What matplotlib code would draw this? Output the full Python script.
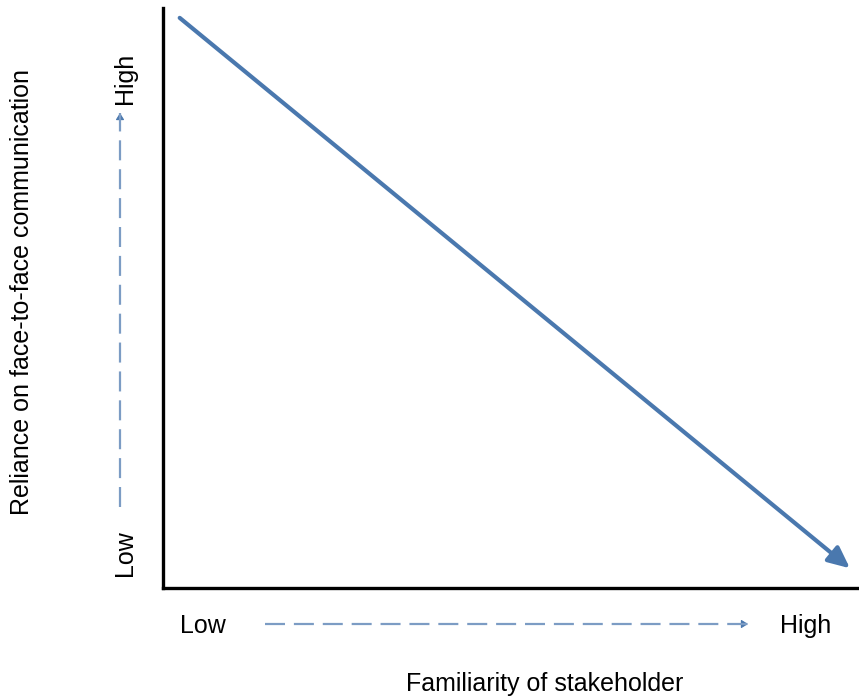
import matplotlib
matplotlib.use('Agg')
import matplotlib.pyplot as plt
from matplotlib.lines import Line2D
from matplotlib.patches import FancyArrowPatch

plt.rcParams['font.family'] = ['Liberation Sans', 'DejaVu Sans']

W, H = 859, 698

# trend: familiarity (x) vs reliance on face-to-face communication (y)
trend_x = [0.024, 0.987]
trend_y = [0.983, 0.034]

x_label = 'Familiarity of stakeholder'
y_label = 'Reliance on face-to-face communication'
low_txt, high_txt = 'Low', 'High'

line_color = '#4A78AE'
dash_color = '#7C9CC4'

fig = plt.figure(figsize=(W / 100, H / 100), dpi=100)
ax = fig.add_axes([163 / W, 1 - 588 / H, (W - 163) / W, 580 / H])
ax.set_xlim(0, 1)
ax.set_ylim(0, 1)
ax.annotate('', xy=(trend_x[1], trend_y[1]), xytext=(trend_x[0], trend_y[0]),
            arrowprops=dict(arrowstyle='-|>,head_length=1.3,head_width=0.6',
                            color=line_color, lw=3, shrinkA=0, shrinkB=0))
for s in ['top', 'right']:
    ax.spines[s].set_visible(False)
for s in ['left', 'bottom']:
    ax.spines[s].set_linewidth(2.4)
ax.set_xticks([])
ax.set_yticks([])
ax.set_facecolor('none')


def fx(px):
    return px / W


def fy(py):
    return 1 - py / H


def dashed_arrow(p0, p1):
    (x0, y0), (x1, y1) = p0, p1
    fig.add_artist(Line2D([fx(x0), fx(x1)], [fy(y0), fy(y1)], transform=fig.transFigure,
                          color=dash_color, lw=1.6, linestyle=(0, (9, 4))))
    # small solid head at the end
    dx, dy = x1 - x0, y1 - y0
    n = (dx ** 2 + dy ** 2) ** 0.5
    tail = (x1 - dx / n * 7, y1 - dy / n * 7)
    fig.add_artist(FancyArrowPatch((fx(tail[0]), fy(tail[1])), (fx(x1), fy(y1)),
                                   transform=fig.transFigure,
                                   arrowstyle='-|>,head_length=4,head_width=2.5',
                                   mutation_scale=1, color=line_color, lw=0.8,
                                   shrinkA=0, shrinkB=0))


fs = 18
# x axis annotations
fig.text(fx(203), fy(626), low_txt, ha='center', va='center', fontsize=fs)
fig.text(fx(806), fy(626), high_txt, ha='center', va='center', fontsize=fs)
fig.text(fx(545), fy(684), x_label, ha='center', va='center', fontsize=fs)
dashed_arrow((265, 624), (748, 624))

# y axis annotations
fig.text(fx(125), fy(553), low_txt, ha='center', va='center', fontsize=fs, rotation=90)
fig.text(fx(125), fy(78), high_txt, ha='center', va='center', fontsize=fs, rotation=90)
fig.text(fx(22), fy(292), y_label, ha='center', va='center', fontsize=fs, rotation=90)
dashed_arrow((120, 507), (120, 113))

fig.savefig('out.png', dpi=100)
